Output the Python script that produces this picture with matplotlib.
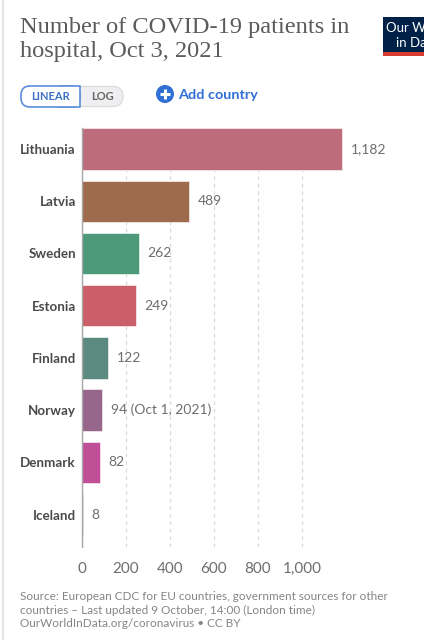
import matplotlib
matplotlib.use('Agg')
import matplotlib.pyplot as plt
from matplotlib.patches import FancyBboxPatch, Rectangle, Circle

countries = ['Lithuania', 'Latvia', 'Sweden', 'Estonia', 'Finland', 'Norway', 'Denmark', 'Iceland']
patients = [1182, 489, 262, 249, 122, 94, 82, 8]
value_labels = ['1,182', '489', '262', '249', '122', '94 (Oct 1, 2021)', '82', '8']
colors = ['#BD6C7C', '#9E6C4C', '#4D9A7A', '#CA5E69', '#5A8A80', '#96678A', '#C04F98', '#4C7FA6']
x_ticks = [0, 200, 400, 600, 800, 1000]
x_tick_labels = ['0', '200', '400', '600', '800', '1,000']

title_lines = ['Number of COVID-19 patients in', 'hospital, Oct 3, 2021']
source_lines = ['Source: European CDC for EU countries, government sources for other',
                'countries \u2013 Last updated 9 October, 14:00 (London time)',
                'OurWorldInData.org/coronavirus \u2022 CC BY']

W, H = 424, 640
plt.rcParams['font.family'] = ['Lato', 'DejaVu Sans']
fig = plt.figure(figsize=(W / 100, H / 100), dpi=100)

# overlay in pixel coordinates for the page furniture
page = fig.add_axes([0, 0, 1, 1])
page.set_xlim(0, W)
page.set_ylim(H, 0)
page.axis('off')

page.plot([3, 3], [0, H], color='#E4E4E4', lw=1.5)

for line, y in zip(title_lines, [28, 51]):
    page.text(20.5, y, line, family='Liberation Serif', fontsize=17.6, color='#5B5B5B', va='center')

# logo, cut off by the right edge
page.add_patch(Rectangle((383, 17), 41, 35, color='#002147', lw=0))
page.add_patch(Rectangle((383, 52), 41, 4, color='#D73C2E', lw=0))
page.text(386, 28, 'Our World', color='white', fontsize=9.5, va='center', clip_on=True)
page.text(396, 43, 'in Data', color='white', fontsize=9.5, va='center', clip_on=True)

# linear / log toggle
page.add_patch(FancyBboxPatch((30, 86.5), 93, 20, boxstyle='round,pad=0,rounding_size=10',
                              fc='#EFEFF1', ec='#DDDDDD', lw=1))
page.add_patch(FancyBboxPatch((21, 86), 59, 21, boxstyle='round,pad=0,rounding_size=9',
                              fc='white', ec='#5C8FDB', lw=1.2))
page.add_patch(Rectangle((60, 86), 20, 21, fc='white', ec='none'))
page.plot([60, 80, 80, 60], [86, 86, 107, 107], color='#5C8FDB', lw=1.2)
page.text(50.5, 96.5, 'LINEAR', color='#3F72C4', fontsize=8, fontweight='bold', ha='center', va='center')
page.text(102.5, 96.5, 'LOG', color='#666666', fontsize=8, fontweight='bold', ha='center', va='center')

page.add_patch(Circle((165, 94), 9, color='#2F6FD6', lw=0))
page.plot([160, 170], [94, 94], color='white', lw=2.2, solid_capstyle='butt')
page.plot([165, 165], [89, 99], color='white', lw=2.2, solid_capstyle='butt')
page.text(178, 95, 'Add country', color='#2F6FD6', fontsize=10.4, fontweight='bold', va='center')

for line, y in zip(source_lines, [596, 610, 623.5]):
    page.text(20.5, y, line, color='#858585', fontsize=8.5, va='center')

# bar chart area, x: 0.2205 px per patient
left, right, top, bottom = 81.5, 424, 128, 547
ax = fig.add_axes([left / W, 1 - bottom / H, (right - left) / W, (bottom - top) / H])
ax.patch.set_alpha(0)
ax.set_xlim(0, (right - left) / 0.2205)
ax.set_ylim(7.62, -0.40)

ax.barh(range(len(countries)), patients, height=0.79, color=colors, edgecolor='white',
        linewidth=0.4, zorder=2)
for i, (val, lab) in enumerate(zip(patients, value_labels)):
    ax.annotate(lab, (val, i), xytext=(6, 0), textcoords='offset points', va='center',
                color='#6E6E6E', fontsize=10)

ax.set_yticks(range(len(countries)), countries)
ax.set_xticks(x_ticks, x_tick_labels)
ax.tick_params(axis='y', length=0, pad=4, labelsize=9.6, labelcolor='#4A4A4A')
ax.tick_params(axis='x', length=0, pad=11, labelsize=11, labelcolor='#6E6E6E')
for lab in ax.get_yticklabels():
    lab.set_fontweight('bold')

ax.grid(axis='x', color='#DADADA', ls=(0, (3, 3)), lw=0.9, zorder=0)
ax.grid(axis='y', visible=False)
for name in ['top', 'right', 'bottom']:
    ax.spines[name].set_visible(False)
ax.spines['left'].set_color('#A8A8A8')
ax.spines['left'].set_linewidth(1)

fig.savefig('out.png', dpi=100)
